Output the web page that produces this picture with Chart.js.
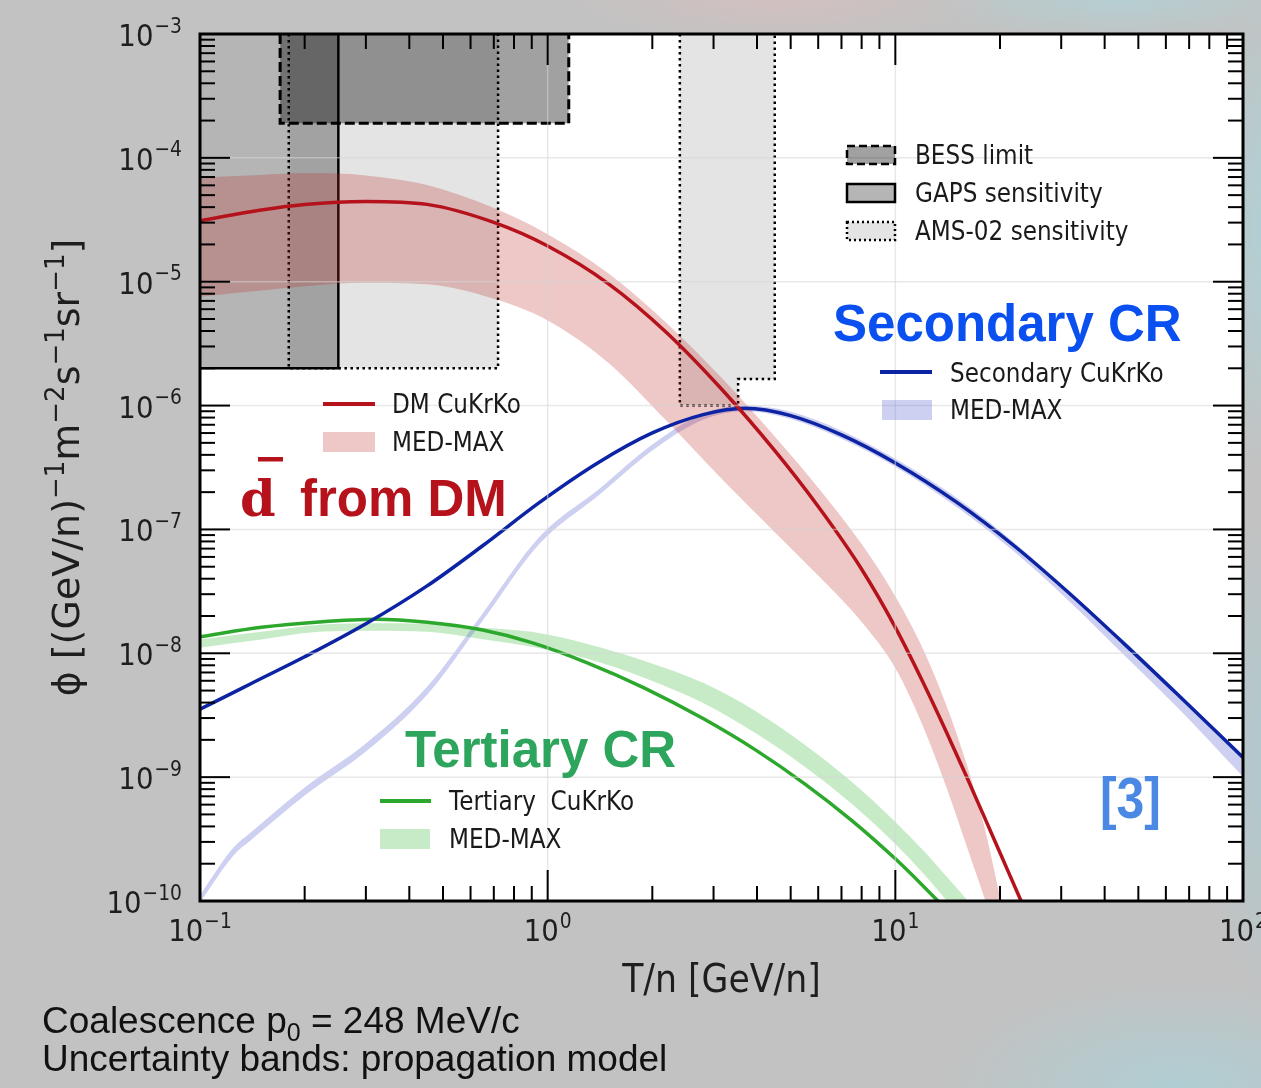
<!DOCTYPE html>
<html>
<head>
<meta charset="utf-8">
<script src="https://cdn.jsdelivr.net/npm/chart.js@4.4.0/dist/chart.umd.min.js"></script>
<style>
  html, body { margin: 0; padding: 0; }
  body {
    width: 1261px; height: 1088px; overflow: hidden; position: relative;
    background:
      radial-gradient(ellipse 90px 260px at 1290px 230px, rgba(170,214,220,0.95), rgba(170,214,220,0) 100%),
      radial-gradient(ellipse 90px 260px at 1290px 760px, rgba(168,205,212,0.9), rgba(168,205,212,0) 100%),
      radial-gradient(ellipse 240px 110px at 1180px 1088px, rgba(172,208,214,0.85), rgba(172,208,214,0) 100%),
      radial-gradient(ellipse 220px 45px at 780px 0px, rgba(214,192,192,0.8), rgba(214,192,192,0) 100%),
      radial-gradient(ellipse 200px 40px at 1120px 0px, rgba(178,210,214,0.8), rgba(178,210,214,0) 100%),
      #c2c2c2;
  }
  #c { position: absolute; left: 0; top: 0; }
  .note {
    position: absolute; left: 42px; white-space: nowrap;
    font-family: "Liberation Sans", Arial, sans-serif; font-size: 37px; line-height: 37px; color: #111;
  }
  .note .sub { font-size: 25px; position: relative; top: 8px; }
</style>
</head>
<body>
<canvas id="c" width="1261" height="1088"></canvas>
<div class="note" style="top:1002px">Coalescence p<span class="sub">0</span> = 248 MeV/c</div>
<div class="note" style="top:1040px">Uncertainty bands: propagation model</div>
<script>
// ---- antideuteron flux, T/n in GeV/n, flux in (GeV/n)^-1 m^-2 s^-1 sr^-1 ----

// dark-matter signal
const X_DM    = [0.1, 0.15, 0.2, 0.3, 0.45, 0.7, 1, 1.5, 2.2, 3.2, 4.5, 6, 8, 10, 12, 14, 16, 18, 20, 23, 25];
const DM_LINE = [3.11e-5, 3.80e-5, 4.21e-5, 4.45e-5, 4.21e-5, 3.01e-5, 1.94e-5, 9.57e-6, 3.87e-6, 1.31e-6, 4.32e-7,
                 1.53e-7, 4.77e-8, 1.62e-8, 5.87e-9, 2.34e-9, 1.02e-9, 4.82e-10, 2.45e-10, 1.0e-10, 5.85e-11];
const DM_HI   = [6.92e-5, 7.28e-5, 7.54e-5, 7.22e-5, 6.03e-5, 3.93e-5, 2.42e-5, 1.16e-5, 4.63e-6, 1.62e-6, 5.62e-7,
                 2.17e-7, 7.61e-8, 2.88e-8, 1.09e-8, 3.85e-9, 1.30e-9, 4.06e-10, 1.07e-10, 1.5e-11, 4.7e-12];
const DM_LO   = [7.57e-6, 8.49e-6, 9.21e-6, 9.81e-6, 9.54e-6, 7.28e-6, 4.87e-6, 2.20e-6, 7.49e-7, 2.48e-7, 9.51e-8,
                 4.24e-8, 1.79e-8, 7.62e-9, 2.59e-9, 8.39e-10, 2.83e-10, 1.08e-10, 4.6e-11, 1.4e-11, 7e-12];

// secondary cosmic rays
const X_SEC    = [0.1, 0.125, 0.14, 0.2, 0.3, 0.45, 0.65, 0.95, 1.4, 2, 2.8, 3.7, 5, 7, 10, 15, 22, 32, 45, 65, 100];
const SEC_LINE = [3.53e-9, 4.83e-9, 5.68e-9, 9.37e-9, 1.73e-8, 3.50e-8, 7.38e-8, 1.66e-7, 3.47e-7, 6.01e-7, 8.45e-7,
                  9.51e-7, 8.30e-7, 5.80e-7, 3.44e-7, 1.66e-7, 7.35e-8, 2.97e-8, 1.23e-8, 4.62e-9, 1.44e-9];
const SEC_HI   = [1.12e-10, 2.72e-10, 3.58e-10, 8.26e-10, 1.87e-9, 5.36e-9, 2.10e-8, 8.79e-8, 2.10e-7, 4.85e-7, 8.59e-7,
                  1.00e-6, 8.91e-7, 6.27e-7, 3.72e-7, 1.80e-7, 7.80e-8, 3.08e-8, 1.25e-8, 4.70e-9, 1.39e-9];
const SEC_LO   = [0.97e-10, 2.34e-10, 3.09e-10, 7.12e-10, 1.61e-9, 4.62e-9, 1.83e-8, 7.72e-8, 1.88e-7, 4.34e-7, 7.68e-7,
                  8.99e-7, 7.79e-7, 5.40e-7, 3.21e-7, 1.52e-7, 6.59e-8, 2.55e-8, 9.98e-9, 3.62e-9, 1.01e-9];

// tertiary cosmic rays
const X_TER    = [0.1, 0.15, 0.22, 0.32, 0.45, 0.65, 0.9, 1.3, 1.9, 2.8, 4, 5.5, 7.5, 10, 12, 14, 16];
const TER_LINE = [1.36e-8, 1.62e-8, 1.79e-8, 1.88e-8, 1.78e-8, 1.54e-8, 1.22e-8, 8.38e-9, 5.24e-9, 2.97e-9,
                  1.63e-9, 8.79e-10, 4.46e-10, 2.19e-10, 1.33e-10, 8.53e-11, 5.69e-11];
const TER_HI   = [1.29e-8, 1.49e-8, 1.70e-8, 1.75e-8, 1.73e-8, 1.61e-8, 1.49e-8, 1.19e-8, 8.68e-9, 5.77e-9,
                  3.36e-9, 1.82e-9, 9.15e-10, 4.35e-10, 2.58e-10, 1.59e-10, 1.04e-10];
const TER_LO   = [1.11e-8, 1.29e-8, 1.49e-8, 1.52e-8, 1.49e-8, 1.30e-8, 1.13e-8, 9.02e-9, 6.33e-9, 3.97e-9,
                  2.23e-9, 1.21e-9, 6.07e-10, 2.88e-10, 1.68e-10, 1.02e-10, 6.64e-11];

// experimental reach (outlines, open towards the top of the plot)
const BESS_X   = [0.17, 0.17, 1.15, 1.15];
const BESS_Y   = [1e-3, 1.9e-4, 1.9e-4, 1e-3];
const GAPS_X   = [0.1, 0.25, 0.25];
const GAPS_Y   = [2e-6, 2e-6, 1e-3];
const AMS_LO_X = [0.18, 0.18, 0.72, 0.72];
const AMS_LO_Y = [1e-3, 2e-6, 2e-6, 1e-3];
const AMS_HI_X = [2.4, 2.4, 3.53, 3.53, 4.5, 4.5];
const AMS_HI_Y = [1e-3, 1e-6, 1e-6, 1.64e-6, 1.64e-6, 1e-3];

// axes
const X_TICKS = [0.1, 1, 10, 100];
const X_TICK_EXP = ['\u22121', '0', '1', '2'];
const Y_TICKS = [1e-10, 1e-9, 1e-8, 1e-7, 1e-6, 1e-5, 1e-4, 1e-3];
const Y_TICK_EXP = ['\u221210', '\u22129', '\u22128', '\u22127', '\u22126', '\u22125', '\u22124', '\u22123'];
const X_GRID = [1, 10];
const Y_GRID = [1e-9, 1e-8, 1e-7, 1e-6, 1e-5, 1e-4];

// ---- styling ----
const RED = '#b5121b', RED_BAND = 'rgba(190,40,40,0.26)';
const BLUE = '#0c23a3', BLUE_BAND = 'rgba(90,100,210,0.30)';
const GREEN = '#2ca82c', GREEN_BAND = 'rgba(70,190,70,0.30)';
const BESS_FILL = 'rgba(0,0,0,0.37)', GAPS_FILL = 'rgba(0,0,0,0.29)', AMS_FILL = 'rgba(0,0,0,0.105)';
const NONE = 'rgba(0,0,0,0)';
const FIG_FONT = '"DejaVu Sans", sans-serif';
const SX = 0.89;   // figure text is slightly condensed horizontally

const pts = (xs, ys) => xs.map((x, i) => ({ x, y: ys[i] }));

function curve(label, xs, ys, color, order) {
  return { label, data: pts(xs, ys), borderColor: color, borderWidth: 3.5, fill: false,
           cubicInterpolationMode: 'monotone', order };
}
function bandTop(label, xs, ys, color, order) {
  return { label, data: pts(xs, ys), borderColor: NONE, borderWidth: 0, backgroundColor: color,
           fill: '+1', cubicInterpolationMode: 'monotone', order };
}
function bandBottom(xs, ys, order) {
  return { label: '', data: pts(xs, ys), borderColor: NONE, borderWidth: 0, fill: false,
           cubicInterpolationMode: 'monotone', order };
}
function region(label, xs, ys, fillColor, dash, width, order) {
  return { label, data: pts(xs, ys), borderColor: '#000', borderWidth: width, borderDash: dash,
           borderCapStyle: 'butt', borderJoinStyle: 'miter', backgroundColor: fillColor,
           fill: 'end', tension: 0, order };
}

// text helpers -------------------------------------------------------------
function textW(ctx, s, font, sx) { ctx.font = font; return ctx.measureText(s).width * sx; }
function drawText(ctx, s, x, y, font, color, align, sx) {
  sx = sx === undefined ? SX : sx;
  const w = textW(ctx, s, font, sx);
  const x0 = align === 'right' ? x - w : align === 'center' ? x - w / 2 : x;
  ctx.save();
  ctx.font = font; ctx.fillStyle = color; ctx.textAlign = 'left'; ctx.textBaseline = 'alphabetic';
  ctx.translate(x0, y); ctx.scale(sx, 1); ctx.fillText(s, 0, 0);
  ctx.restore();
  return w;
}
function pow10(ctx, exp, x, base, align) {
  const fb = `31px ${FIG_FONT}`, fs = `21px ${FIG_FONT}`;
  const w1 = textW(ctx, '10', fb, SX), w2 = textW(ctx, exp, fs, SX);
  const tot = w1 + 1 + w2;
  const x0 = align === 'right' ? x - tot : x - tot / 2;
  drawText(ctx, '10', x0, base, fb, '#1e1e1e', 'left');
  drawText(ctx, exp, x0 + w1 + 1, base - 13.5, fs, '#1e1e1e', 'left');
}

function legendLine(ctx, x1, x2, y, color) {
  ctx.save(); ctx.strokeStyle = color; ctx.lineWidth = 4; ctx.lineCap = 'butt';
  ctx.beginPath(); ctx.moveTo(x1, y); ctx.lineTo(x2, y); ctx.stroke(); ctx.restore();
}
function legendPatch(ctx, x, y, w, h, fill, dash, lw) {
  ctx.save();
  ctx.fillStyle = fill; ctx.fillRect(x, y, w, h);
  if (lw) { ctx.strokeStyle = '#000'; ctx.lineWidth = lw; ctx.setLineDash(dash); ctx.strokeRect(x, y, w, h); }
  ctx.restore();
}

const deco = {
  id: 'deco',
  beforeDraw(chart) {
    const { ctx, chartArea: a } = chart;
    ctx.save(); ctx.fillStyle = '#ffffff';
    ctx.fillRect(a.left, a.top, a.right - a.left, a.bottom - a.top); ctx.restore();
  },
  afterDatasetsDraw(chart) {
    const { ctx, chartArea: a } = chart;
    const xs = chart.scales.x, ys = chart.scales.y;
    const seg = (x1, y1, x2, y2) => { ctx.beginPath(); ctx.moveTo(x1, y1); ctx.lineTo(x2, y2); ctx.stroke(); };
    ctx.save();
    // faint decade grid, drawn over the filled areas
    ctx.strokeStyle = 'rgba(214,214,214,0.55)'; ctx.lineWidth = 1.5;
    X_GRID.forEach(v => { const p = xs.getPixelForValue(v); seg(p, a.top, p, a.bottom); });
    Y_GRID.forEach(v => { const p = ys.getPixelForValue(v); seg(a.left, p, a.right, p); });

    // inward ticks on all four sides
    ctx.strokeStyle = '#000'; ctx.lineWidth = 2;
    for (let e = -1; e <= 2; e++) {
      for (let m = 1; m <= 9; m++) {
        const v = m * Math.pow(10, e);
        if (v > 100.0001) break;
        const p = xs.getPixelForValue(v), L = m === 1 ? 31 : 15;
        seg(p, a.bottom, p, a.bottom - L); seg(p, a.top, p, a.top + L);
      }
    }
    for (let e = -10; e <= -3; e++) {
      for (let m = 1; m <= 9; m++) {
        const v = m * Math.pow(10, e);
        if (v > 1.0001e-3) break;
        const p = ys.getPixelForValue(v), L = m === 1 ? 30 : 15;
        seg(a.left, p, a.left + L, p); seg(a.right, p, a.right - L, p);
      }
    }
    ctx.lineWidth = 3;
    ctx.strokeRect(a.left, a.top, a.right - a.left, a.bottom - a.top);
    ctx.restore();

    // tick labels
    X_TICKS.forEach((v, i) => pow10(ctx, X_TICK_EXP[i], xs.getPixelForValue(v), 941, 'center'));
    Y_TICKS.forEach((v, i) => pow10(ctx, Y_TICK_EXP[i], 182, ys.getPixelForValue(v) + 12, 'right'));

    // axis titles
    drawText(ctx, 'T/n [GeV/n]', (a.left + a.right) / 2, 992, `39px ${FIG_FONT}`, '#1e1e1e', 'center');
    const parts = [['\u03d5 [(GeV/n)', 0], ['\u22121', 1], ['m', 0], ['\u22122', 1], ['s', 0],
                   ['\u22121', 1], ['sr', 0], ['\u22121', 1], [']', 0]];
    const fb = `38px ${FIG_FONT}`, fs = `26px ${FIG_FONT}`;
    const tot = parts.reduce((s, p) => s + textW(ctx, p[0], p[1] ? fs : fb, 1), 0);
    ctx.save();
    ctx.translate(79, (a.top + a.bottom) / 2); ctx.rotate(-Math.PI / 2);
    ctx.fillStyle = '#1e1e1e'; ctx.textBaseline = 'alphabetic';
    let cx = -tot / 2;
    parts.forEach(p => {
      ctx.font = p[1] ? fs : fb;
      ctx.fillText(p[0], cx, p[1] ? -15 : 0);
      cx += ctx.measureText(p[0]).width;
    });
    ctx.restore();

    // legend: experiments
    const lf = `26px ${FIG_FONT}`, lc = '#1a1a1a';
    legendPatch(ctx, 847, 146, 48, 18, BESS_FILL, [8, 4], 2.5);
    legendPatch(ctx, 847, 184, 48, 18, GAPS_FILL, [], 2.5);
    legendPatch(ctx, 847, 222, 48, 18, AMS_FILL, [2, 3], 2.5);
    drawText(ctx, 'BESS limit', 915, 164, lf, lc);
    drawText(ctx, 'GAPS sensitivity', 915, 202, lf, lc);
    drawText(ctx, 'AMS-02 sensitivity', 915, 240, lf, lc);

    // legend: dark matter
    legendLine(ctx, 323, 375, 404, RED);
    legendPatch(ctx, 323, 432, 52, 20, RED_BAND, [], 0);
    drawText(ctx, 'DM CuKrKo', 392, 413, lf, lc);
    drawText(ctx, 'MED-MAX', 392, 451, lf, lc);

    // legend: secondary
    legendLine(ctx, 880, 932, 372, BLUE);
    legendPatch(ctx, 882, 400, 50, 20, BLUE_BAND, [], 0);
    drawText(ctx, 'Secondary CuKrKo', 950, 382, lf, lc);
    drawText(ctx, 'MED-MAX', 950, 419, lf, lc);

    // legend: tertiary
    legendLine(ctx, 380, 431, 801, GREEN);
    legendPatch(ctx, 380, 829, 50, 20, GREEN_BAND, [], 0);
    drawText(ctx, 'Tertiary  CuKrKo', 449, 810, lf, lc);
    drawText(ctx, 'MED-MAX', 449, 848, lf, lc);

    // headline labels
    const big = 'bold 51px "Liberation Sans", Arial, sans-serif';
    drawText(ctx, 'Secondary CR', 833, 341, big, '#0a4ff0', 'left', 1);
    drawText(ctx, 'Tertiary CR', 405, 767, big, '#2ea55c', 'left', 1);
    drawText(ctx, 'd', 240, 516, 'bold 51px "DejaVu Serif", serif', RED, 'left', 1);
    ctx.save(); ctx.fillStyle = RED; ctx.fillRect(258, 457, 25, 4.5); ctx.restore();
    drawText(ctx, 'from DM', 300, 516, big, RED, 'left', 1);
    drawText(ctx, '[3]', 1100, 818, 'bold 58px "Liberation Sans", Arial, sans-serif', '#4a88e4', 'left', 0.86);
  }
};

new Chart(document.getElementById('c'), {
  type: 'line',
  data: {
    datasets: [
      curve('DM CuKrKo', X_DM, DM_LINE, RED, 1),
      curve('Secondary CuKrKo', X_SEC, SEC_LINE, BLUE, 2),
      curve('Tertiary CuKrKo', X_TER, TER_LINE, GREEN, 3),
      bandTop('DM MED-MAX', X_DM, DM_HI, RED_BAND, 5),
      bandBottom(X_DM, DM_LO, 5),
      bandTop('Secondary MED-MAX', X_SEC, SEC_HI, BLUE_BAND, 6),
      bandBottom(X_SEC, SEC_LO, 6),
      bandTop('Tertiary MED-MAX', X_TER, TER_HI, GREEN_BAND, 7),
      bandBottom(X_TER, TER_LO, 7),
      region('BESS limit', BESS_X, BESS_Y, BESS_FILL, [10, 4], 3, 10),
      region('GAPS sensitivity', GAPS_X, GAPS_Y, GAPS_FILL, [], 2.5, 11),
      region('AMS-02 sensitivity', AMS_LO_X, AMS_LO_Y, AMS_FILL, [2.5, 3.5], 2.5, 12),
      region('AMS-02 sensitivity', AMS_HI_X, AMS_HI_Y, AMS_FILL, [2.5, 3.5], 2.5, 12)
    ]
  },
  options: {
    responsive: false,
    maintainAspectRatio: false,
    devicePixelRatio: 1,
    animation: false,
    events: [],
    layout: { padding: { left: 200, top: 34, right: 18, bottom: 187 } },
    elements: { point: { radius: 0, hoverRadius: 0 } },
    scales: {
      x: { type: 'logarithmic', min: 0.1, max: 100, display: false },
      y: { type: 'logarithmic', min: 1e-10, max: 1e-3, display: false }
    },
    plugins: { legend: { display: false }, tooltip: { enabled: false }, filler: { propagate: false } }
  },
  plugins: [deco]
});
</script>
</body>
</html>
